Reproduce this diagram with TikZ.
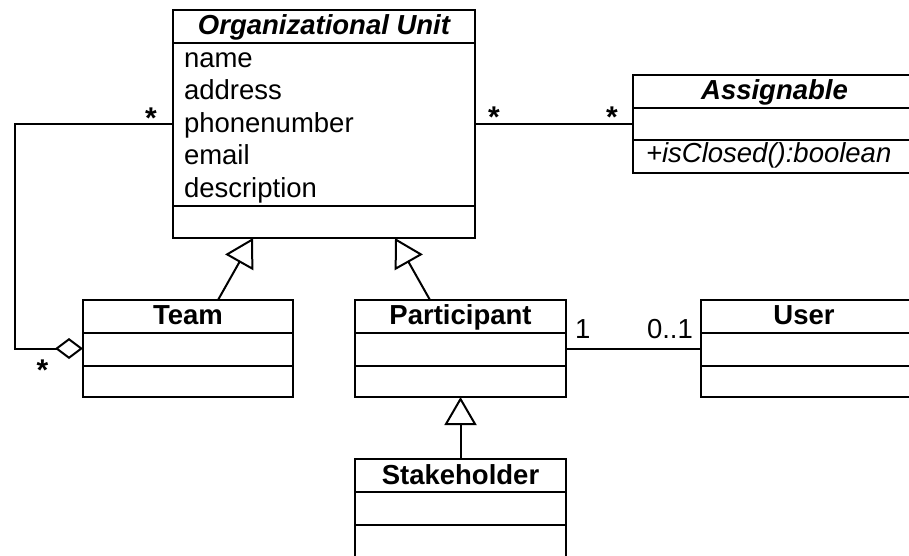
\documentclass[tikz,border=0pt]{standalone}
\usepackage{fontspec}
\setmainfont{Liberation Sans}
\usetikzlibrary{arrows.meta}
\begin{document}
\begin{tikzpicture}[x=1pt,y=-1pt,
  every node/.style={inner sep=0pt, outer sep=0pt},
  classbox/.style={draw, line width=2pt, rectangle},
  sep/.style={line width=2pt},
  lbl/.style={font=\fontsize{27.5}{33}\selectfont},
  ttl/.style={font=\fontsize{27.5}{33}\selectfont\bfseries, anchor=base},
  attr/.style={lbl, anchor=base west},
  conn/.style={line width=2pt},
  gen/.style={conn, -{Triangle[open, length=28pt, width=32pt]}},
  aggr/.style={conn, -{Diamond[open, length=28pt, width=21pt]}},
  mult/.style={font=\fontsize{30}{33}\selectfont\bfseries, anchor=base},
]
\useasboundingbox (0,0) rectangle (909,555);
\fill[white] (0,0) rectangle (909,555);

% ---- classes ----
\node[classbox, minimum width=302pt, minimum height=228pt] (ou) at (324,124) {};
\draw[sep] (173,43) -- (475,43);
\draw[sep] (173,206) -- (475,206);
\node[ttl] (ouT) at (324,34.5) {\itshape Organizational Unit};
\node[attr] (a1) at (184,67) {name};
\node[attr] (a2) at (184,99.5) {address};
\node[attr] (a3) at (184,132) {phonenumber};
\node[attr] (a4) at (184,164.5) {email};
\node[attr] (a5) at (184,197) {description};

\node[classbox, minimum width=283pt, minimum height=98pt] (as) at (774.5,124) {};
\draw[sep] (633,108) -- (916,108);
\draw[sep] (633,140) -- (916,140);
\node[ttl] (asT) at (774.5,99.5) {\itshape Assignable};
\node[attr] (m1) at (646,162) {\itshape +isClosed():boolean};

\node[classbox, minimum width=210pt, minimum height=97pt] (team) at (188,348.5) {};
\draw[sep] (83,333) -- (293,333);
\draw[sep] (83,366) -- (293,366);
\node[ttl] (teamT) at (188,324) {Team};

\node[classbox, minimum width=211pt, minimum height=97pt] (part) at (460.5,348.5) {};
\draw[sep] (355,333) -- (566,333);
\draw[sep] (355,366) -- (566,366);
\node[ttl] (partT) at (460.5,324) {Participant};

\node[classbox, minimum width=211pt, minimum height=97pt] (user) at (806.5,348.5) {};
\draw[sep] (701,333) -- (912,333);
\draw[sep] (701,366) -- (912,366);
\node[ttl] (userT) at (804,324) {User};

\node[classbox, minimum width=211pt, minimum height=99pt] (sh) at (460.5,508.5) {};
\draw[sep] (355,492) -- (566,492);
\draw[sep] (355,525) -- (566,525);
\node[ttl] (shT) at (460.5,484) {Stakeholder};

% ---- connectors ----
\draw[conn] (ou.east) -- (as.west);
\coordinate (bend) at (15,240);
\draw[aggr] (ou.west) -| (bend) |- (team.west);
\draw[gen] ([xshift=30pt]team.north) -- ([xshift=-71pt]ou.south);
\draw[gen] ([xshift=-30.5pt]part.north) -- ([xshift=71pt]ou.south);
\draw[gen] (sh.north) -- (part.south);
\draw[conn] (part.east) -- (user.west);

% ---- multiplicities ----
\node[mult] (s1) at (151,128) {*};
\node[mult] (s2) at (494,127) {*};
\node[mult] (s3) at (612,127) {*};
\node[mult] (s4) at (42.5,380) {*};
\node[attr] (n1) at (575,338.5) {1};
\node[attr] (n2) at (647,338.5) {0..1};
\end{tikzpicture}
\end{document}
